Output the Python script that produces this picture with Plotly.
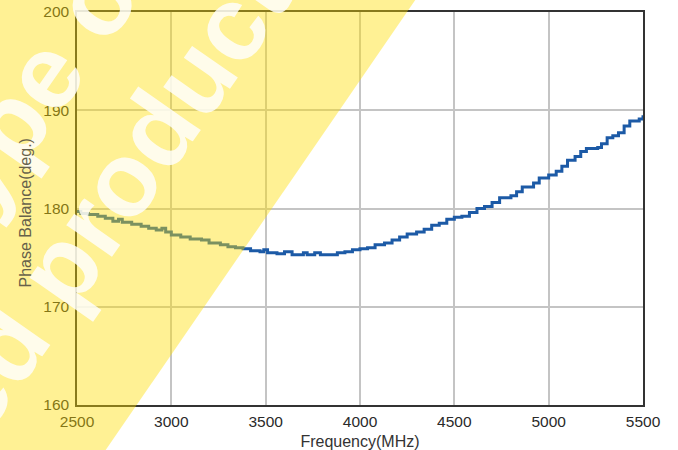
import plotly.graph_objects as go

# ---- data ----
freq_mhz = [2500, 2520, 2560, 2610, 2650, 2690, 2720, 2740, 2790, 2840, 2880, 2920, 2950, 2970,
            3000, 3050, 3100, 3160, 3200, 3260, 3300, 3340, 3380, 3420, 3470, 3490, 3510, 3560,
            3600, 3640, 3680, 3700, 3720, 3760, 3790, 3850, 3880, 3920, 3960, 4000, 4040, 4080,
            4130, 4170, 4210, 4250, 4300, 4340, 4380, 4420, 4460, 4500, 4540, 4580, 4620, 4660,
            4700, 4740, 4800, 4830, 4860, 4900, 4920, 4950, 5000, 5040, 5070, 5100, 5140, 5170,
            5200, 5260, 5280, 5310, 5340, 5370, 5400, 5430, 5480, 5500]
phase_deg = [179.7, 179.5, 179.4, 179.2, 179.0, 178.7, 178.9, 178.6, 178.4, 178.2, 178.0, 177.8, 178.0, 177.6,
             177.3, 177.1, 176.9, 176.8, 176.5, 176.3, 176.1, 176.0, 175.9, 175.7, 175.6, 175.8, 175.5, 175.4,
             175.6, 175.3, 175.3, 175.5, 175.3, 175.5, 175.3, 175.3, 175.5, 175.6, 175.8, 175.9, 176.0, 176.3,
             176.5, 176.8, 177.1, 177.4, 177.6, 177.9, 178.3, 178.5, 178.9, 179.1, 179.2, 179.6, 180.0, 180.2,
             180.6, 181.1, 181.3, 181.7, 182.2, 182.2, 182.6, 183.1, 183.4, 183.8, 184.3, 184.9, 185.3, 185.8,
             186.1, 186.2, 186.6, 187.2, 187.4, 187.7, 188.4, 188.9, 189.1, 189.5]

x_ticks = [2500, 3000, 3500, 4000, 4500, 5000, 5500]
y_ticks = [160, 170, 180, 190, 200]
x_title = "Frequency(MHz)"
y_title = "Phase Balance(deg.)"
watermark_lines = ["This type of", "Discontinued product"]

FONT = "Liberation Sans, Arial, sans-serif"
L, R, T, B, W, H = 77, 35, 12, 45, 678, 450
PW, PH = W - L - R, H - T - B


def px_to_paper(px, py):
    return (px - L) / PW, (H - B - py) / PH


fig = go.Figure()
fig.add_trace(go.Scatter(
    x=freq_mhz, y=phase_deg, mode="lines",
    line=dict(color="#1c5aa6", width=3, shape="hv"),
    showlegend=False, hoverinfo="skip",
))

axis_common = dict(
    showgrid=True, gridcolor="#c4c4c4", gridwidth=1.5,
    showline=True, linecolor="#333333", linewidth=1.5, mirror=True,
    zeroline=False, ticks="", automargin=False,
    tickfont=dict(family=FONT, size=15.5, color="#2a2a2a"),
)

fig.update_xaxes(range=[2500, 5500], tickvals=x_ticks, ticktext=[str(v) for v in x_ticks],
                 title=dict(text=x_title, font=dict(family=FONT, size=16, color="#333333"), standoff=6),
                 ticklabelstandoff=2, **axis_common)
fig.update_yaxes(range=[160, 200], tickvals=y_ticks, ticktext=[str(v) for v in y_ticks],
                 ticklabelstandoff=3, **axis_common)

# translucent yellow diagonal band (paper coordinates)
fig.add_shape(type="path",
              path="M -0.15 1.05 L 0.6069 1.05 L 0.0433 -0.13 L -0.15 -0.13 Z",
              xref="paper", yref="paper", fillcolor="rgb(255,222,0)", opacity=0.42,
              line=dict(width=0), layer="above")

# white watermark text
fig.add_annotation(text="<b>" + watermark_lines[0] + "</b>", xref="paper", yref="paper",
                   x=-0.1981, y=0.555, xanchor="center", yanchor="middle", showarrow=False,
                   textangle=-55, font=dict(family=FONT, size=105, color="white"), opacity=0.82)
fig.add_annotation(text="<b>" + watermark_lines[1] + "</b>", xref="paper", yref="paper",
                   x=-0.2164, y=-0.0354, xanchor="center", yanchor="middle", showarrow=False,
                   textangle=-55, font=dict(family=FONT, size=105, color="white"), opacity=0.82)

# y-axis title drawn above the watermark
fig.add_annotation(text=y_title, xref="paper", yref="paper", x=px_to_paper(24.5, 0)[0],
                   y=px_to_paper(0, 213)[1], xanchor="center", yanchor="middle", showarrow=False,
                   textangle=-90, font=dict(family=FONT, size=16, color="#67614a"))

fig.update_layout(
    width=W, height=H, autosize=False,
    margin=dict(l=L, r=R, t=T, b=B),
    paper_bgcolor="white", plot_bgcolor="white",
)

fig.write_html("out.html", config={"displayModeBar": False},
               post_script="document.body.style.margin='0';")
